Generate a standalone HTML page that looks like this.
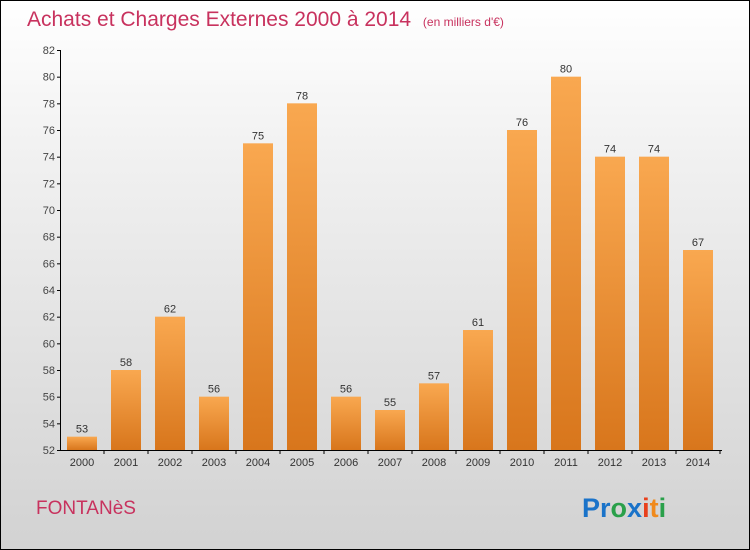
<!DOCTYPE html>
<html><head><meta charset="utf-8"><style>
body{margin:0}
#c{width:750px;height:550px;position:relative;box-sizing:border-box;border:1px solid #000;background:linear-gradient(#ffffff,#f0f0f0 30%,#d2d2d2);font-family:"Liberation Sans",sans-serif;overflow:hidden}
</style></head><body>
<div id="c">
<svg width="750" height="550" style="position:absolute;left:-1px;top:-1px" id="svg">
<defs>
<linearGradient id="bg" x1="0" y1="0" x2="0" y2="1"><stop offset="0" stop-color="#f9a850"/><stop offset="1" stop-color="#d8761c"/></linearGradient>
</defs>
<text x="27" y="26" font-size="21" fill="#c8325e">Achats et Charges Externes 2000 à 2014 <tspan font-size="12" dx="6">(en milliers d'€)</tspan></text>
<text x="36" y="514" font-size="19" fill="#c8325e">FONTANèS</text>
<text x="582" y="517" font-size="27" font-weight="bold"><tspan fill="#1a73c9">Pr</tspan><tspan fill="#2aa04a">o</tspan><tspan fill="#1a73c9">x</tspan><tspan fill="#e8401c">i</tspan><tspan fill="#f08a1c">t</tspan><tspan fill="#2aa04a">i</tspan></text>
<g id="g"></g>
</svg>
</div>
<script>
const years=["2000","2001","2002","2003","2004","2005","2006","2007","2008","2009","2010","2011","2012","2013","2014"];
const values=[53,58,62,56,75,78,56,55,57,61,76,80,74,74,67];
const yTicks=[52,54,56,58,60,62,64,66,68,70,72,74,76,78,80,82];
const NS="http://www.w3.org/2000/svg";
const g=document.getElementById('g');
const y=v=>450-(v-52)*400/30;
const x=i=>82+i*44;
function mk(t,a){const e=document.createElementNS(NS,t);for(const k in a)e.setAttribute(k,a[k]);g.appendChild(e);return e;}
let ax=mk('line',{x1:60.5,y1:50,x2:60.5,y2:450,stroke:'#000'});


let bx=mk('line',{x1:60,y1:450.5,x2:722,y2:450.5,stroke:'#000'});


yTicks.forEach(v=>{
 const l=mk('line',{x1:57,x2:61,y1:y(v)+.5,y2:y(v)+.5,stroke:'#000'});
 
 
 const t=mk('text',{x:55,y:y(v)+4,'font-size':11,fill:'#444','text-anchor':'end'});t.textContent=v;
 
 
});
years.forEach((yr,i)=>{
 const v=values[i];
 const r=mk('rect',{x:x(i)-15,y:y(v),width:30,height:450-y(v),fill:'url(#bg)'});
 
 
 const t=mk('text',{x:x(i),y:y(v)-4,'font-size':11,fill:'#333','text-anchor':'middle'});t.textContent=v;
 
 
 const tk=mk('line',{x1:x(i)+22,x2:x(i)+22,y1:450,y2:454,stroke:'#000'});
 
 
 const xl=mk('text',{x:x(i),y:466,'font-size':11,fill:'#333','text-anchor':'middle'});xl.textContent=yr;
 
 
});
</script>
</body></html>
